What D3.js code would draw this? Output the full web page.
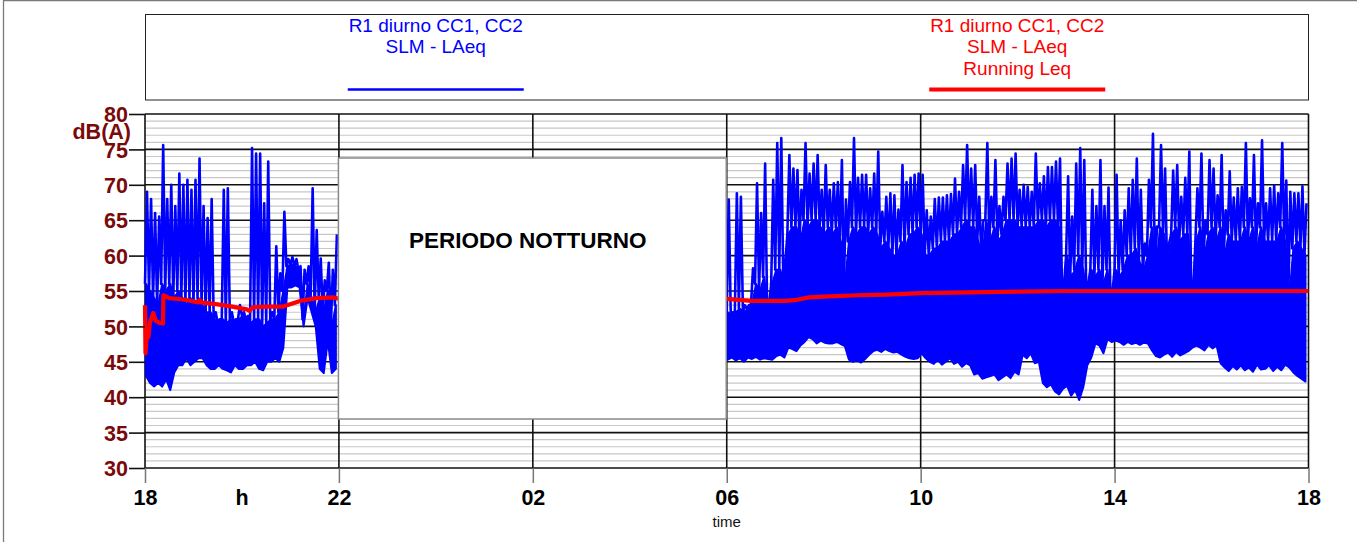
<!DOCTYPE html>
<html lang="it">
<head>
<meta charset="utf-8">
<title>R1 diurno CC1, CC2 - SLM LAeq</title>
<script src="https://cdn.jsdelivr.net/npm/d3@7"></script>
<style>
  html, body { margin: 0; padding: 0; background: #fff; }
  svg { display: block; font-family: "Liberation Sans", Arial, sans-serif; }
</style>
</head>
<body>
<svg id="grafico" width="1357" height="542"></svg>
<script>
// Asse tempi: ore trascorse dalle 18:00 del primo giorno
const ORE_TICK = [0, 4, 8, 12, 16, 20, 24];
const ETICHETTE_ORE = ['18', '22', '02', '06', '10', '14', '18'];
const TICK_DB = [30, 35, 40, 45, 50, 55, 60, 65, 70, 75, 80];

// Campioni SLM - LAeq letti a blocchi di 5 minuti:
// minimo, limite alto della fascia fitta, picco del blocco
const PASSO_ORE = 5 / 60;
const INIZIO_SERALE = 0; // 18:00
const INIZIO_DIURNO = 12; // 06:00

const SERALE_MAX = [
  69, 68, 66, 65.5, 75.6, 68, 70, 67, 71.6, 70, 70.7, 69.3, 70.7, 73.7, 67, 65.3,
  68, 52, 51, 69.3, 69.5, 52, 51, 53, 52, 51.5, 75.2, 74.4, 74.4, 67.4, 73.3, 52,
  61.3, 57.5, 66.2, 59.5, 59.8, 59.5, 58.5, 58, 58.5, 69.5, 63.6, 59.6, 56.5, 59, 58, 63,
];
const SERALE_FASCIA = [
  56, 55, 54, 53, 56, 55, 56, 54, 55, 54, 53, 54, 53, 54, 53, 52,
  52, 51, 50.5, 51, 50.5, 51, 50.5, 51, 51.5, 51, 50.5, 51, 51, 50, 50.5, 51,
  51, 52, 55, 58.5, 58.8, 58.5, 57.8, 51, 56, 54, 52, 54, 52, 55, 50, 53,
];
const SERALE_MIN = [
  43, 42, 41.5, 42, 41.5, 42.5, 41, 43.5, 44.5, 44.5, 45.5, 44.5, 45, 45.5, 45.5, 44.5,
  44, 44, 44.5, 44, 43.8, 43.5, 44.5, 44, 44, 44.5, 44.5, 45, 44, 43.8, 45, 45,
  45.5, 45, 47, 55.5, 55.5, 55.8, 55.5, 50, 54, 52, 50, 44, 43.4, 48, 43.4, 44,
];

const DIURNO_MAX = [
  67.9, 52, 68.8, 68.3, 53, 53, 58.2, 70.2, 66, 73, 53, 70.7, 75.9, 76.6, 58.9, 74.2,
  72.3, 72.1, 69.3, 75.9, 71.6, 73, 74.2, 69.3, 72.8, 69.3, 70.2, 70.4, 73.5, 67.9, 70.4, 76.6,
  71, 71.4, 71.4, 69.5, 71.6, 74.7, 66.2, 68.3, 68.8, 68.5, 66.5, 72.8, 70.4, 71, 71.4, 71.6,
  71.4, 66.4, 65.5, 68, 68.2, 68.2, 68.5, 68.7, 70.9, 69, 72.8, 75.6, 72.3, 72.8, 68.3, 65,
  75.9, 68.3, 73.5, 67, 68.3, 73, 73.7, 74.4, 69.3, 70, 69.7, 69, 74.4, 70.2, 71.2, 72.5,
  72.5, 73.3, 73.7, 56, 71.2, 65.5, 73, 75.2, 73.5, 56, 69.3, 67, 73.5, 67, 69.6, 55,
  71.4, 65, 66.4, 69.5, 70.7, 73.7, 69.3, 61.7, 70.7, 77.2, 64.1, 75.6, 72.3, 61.7, 72, 72.8,
  68.3, 71, 74.7, 55, 69.5, 74.4, 65, 73.5, 72.3, 68.5, 74.2, 66.4, 71.9, 68.2, 69.5, 69.7,
  75.9, 68.1, 74.2, 67.4, 76.3, 67.4, 69.5, 69.9, 68.8, 75.9, 70.6, 69, 68.8, 68.8, 69.8, 67.4,
];
const DIURNO_FASCIA = [
  52, 51.5, 52, 52.5, 52, 52.5, 53, 56, 55, 57, 52.5, 56, 58, 58, 56, 63,
  64, 64, 62, 65, 64, 65, 65, 64, 63, 64, 63, 64, 62, 56, 62, 64,
  63, 64, 64, 63, 64, 63, 61, 62, 61, 60, 60, 62, 61, 63, 63, 64,
  63, 60, 60, 61, 61, 62, 62, 62, 63, 63, 64, 65, 64, 64, 62, 60,
  65, 62, 64, 62, 63, 65, 65, 65, 64, 64, 64, 64, 64, 65, 65, 64,
  65, 65, 64, 54, 60, 57, 58, 60, 58, 54, 58, 57, 58, 56, 58, 53,
  58, 57, 58, 60, 60, 61, 59, 58, 60, 64, 58, 64, 63, 58, 63, 64,
  62, 63, 63, 54, 62, 64, 60, 63, 64, 62, 64, 60, 63, 62, 62, 62,
  64, 62, 64, 61, 64, 62, 62, 62, 62, 64, 62, 54, 61, 62, 61, 60,
];
const DIURNO_MIN = [
  45.3, 45.6, 45.2, 45.5, 45.0, 45.6, 45.4, 45.7, 45.3, 45.5, 45.4, 45.3, 45.8, 46.0, 45.6, 47.0,
  46.8, 46.5, 47.3, 47.8, 48.5, 48.2, 47.6, 48.0, 47.7, 47.6, 47.6, 47.8, 47.5, 47.2, 45.3, 45.0,
  45.2, 44.9, 45.4, 46.0, 46.5, 46.7, 46.4, 46.8, 46.5, 46.3, 46.4, 46.0, 45.7, 45.5, 45.4, 45.5,
  46.2, 45.5, 45.0, 44.7, 45.3, 44.6, 45.0, 45.5, 44.7, 45.0, 44.3, 44.8, 44.5, 43.2, 43.4, 42.6,
  42.8, 43.0, 43.2, 42.4, 42.8, 43.2, 42.7, 43.6, 43.2, 46.0, 45.5, 46.2, 44.8, 45.0, 42.0, 41.4,
  41.8, 40.8, 40.4, 41.2, 41.6, 40.2, 41.0, 39.6, 41.4, 44.5, 45.6, 47.6, 47.3, 46.2, 48.2, 47.8,
  48.0, 47.8, 47.4, 47.8, 47.5, 47.7, 47.4, 47.7, 47.6, 46.6, 45.8, 45.6, 46.0, 46.3, 45.7, 46.4,
  45.9, 46.2, 46.5, 47.0, 47.3, 47.0, 46.6, 47.4, 46.9, 47.3, 44.8, 44.2, 43.7, 44.4, 43.9, 44.5,
  43.8, 44.2, 43.6, 44.6, 43.9, 44.0, 44.5, 43.7, 44.3, 43.8, 44.6, 44.2, 43.5, 43.0, 42.6, 42.2,
];

// Running Leq (ore dalle 18:00, dB(A))
const LEQ_SERALE_ORE = [
  0, 0.01, 0.04, 0.07, 0.1, 0.17, 0.22, 0.3, 0.37, 0.38, 0.5, 0.8, 1.1, 1.13, 1.16,
  1.5, 1.8, 2.1, 2.16, 2.22, 2.5, 2.85, 3.2, 3.54, 3.88, 4.0,
];
const LEQ_SERALE = [
  53.0, 46.2, 49.0, 48.5, 50.5, 51.9, 50.8, 50.5, 50.4, 54.4, 54.0, 53.8, 53.4, 53.7, 53.4,
  53.1, 52.8, 52.4, 52.2, 52.7, 52.8, 52.8, 53.6, 54.0, 54.1, 53.9,
];
const LEQ_DIURNO_ORE = [12, 12.5, 13.2, 13.4, 13.7, 14, 14.7, 15.3, 16, 17, 18, 19, 20, 21, 22, 23, 24];
const LEQ_DIURNO = [53.9, 53.6, 53.6, 53.7, 54.1, 54.2, 54.4, 54.5, 54.7, 54.8, 54.9, 55.0, 55.0, 55.0, 55.0, 55.0, 55.0];

const LEGENDA_BLU = ['R1 diurno CC1, CC2', 'SLM - LAeq'];
const LEGENDA_ROSSA = ['R1 diurno CC1, CC2', 'SLM - LAeq', 'Running Leq'];
const NOTTE_ORE = [4, 12];

(function () {
  const BLU = '#0000ff';
  const ROSSO = '#ff0000';
  const BORDEAUX = '#7a0a0a';
  const GRIGIO_MINORE = '#c8c8c8';

  const svg = d3.select('#grafico');

  const x = d3.scaleLinear().domain([0, 24]).range([145, 1308.5]);
  const y = d3.scaleLinear().domain([30, 80]).range([468, 114]);

  // cornice esterna (solo lato sinistro e superiore visibili)
  svg.append('path')
    .attr('d', 'M3.5,542 V0.5 H1357')
    .attr('fill', 'none')
    .attr('stroke', '#7a7a7a')
    .attr('stroke-width', 1.3);

  // legenda
  const boxLeg = svg.append('g').attr('class', 'legenda');
  boxLeg.append('rect')
    .attr('x', 145.5).attr('y', 14.5)
    .attr('width', 1163).attr('height', 85.5)
    .attr('fill', '#fff')
    .attr('stroke', '#222')
    .attr('stroke-width', 1);

  const voci = [
    { righe: LEGENDA_BLU, colore: BLU, cx: 145 + 1163 * 0.25, spessore: 2.5 },
    { righe: LEGENDA_ROSSA, colore: ROSSO, cx: 145 + 1163 * 0.75, spessore: 4 },
  ];
  voci.forEach((v) => {
    boxLeg.selectAll(null)
      .data(v.righe)
      .enter()
      .append('text')
      .attr('x', v.cx)
      .attr('y', (d, i) => 31.5 + i * 21.5)
      .attr('text-anchor', 'middle')
      .attr('fill', v.colore)
      .attr('font-size', 19)
      .text((d) => d);
    boxLeg.append('line')
      .attr('x1', v.cx - 88).attr('x2', v.cx + 88)
      .attr('y1', 89.5).attr('y2', 89.5)
      .attr('stroke', v.colore)
      .attr('stroke-width', v.spessore);
  });

  // griglia orizzontale minore (1 dB) e maggiore (5 dB)
  const minori = d3.range(31, 80).filter((v) => v % 5 !== 0);
  svg.append('g')
    .selectAll('line')
    .data(minori)
    .enter()
    .append('line')
    .attr('x1', x(0)).attr('x2', x(24))
    .attr('y1', (d) => y(d)).attr('y2', (d) => y(d))
    .attr('stroke', GRIGIO_MINORE)
    .attr('stroke-width', 1.2);

  svg.append('g')
    .selectAll('line')
    .data(TICK_DB)
    .enter()
    .append('line')
    .attr('x1', x(0)).attr('x2', x(24))
    .attr('y1', (d) => y(d)).attr('y2', (d) => y(d))
    .attr('stroke', '#111')
    .attr('stroke-width', 1.6);

  svg.append('g')
    .selectAll('line')
    .data(ORE_TICK)
    .enter()
    .append('line')
    .attr('x1', (d) => x(d)).attr('x2', (d) => x(d))
    .attr('y1', y(80)).attr('y2', y(30))
    .attr('stroke', '#111')
    .attr('stroke-width', 1.6);

  // serie LAeq: fascia fitta (min -> fascia) e picchi (fascia -> max)
  function blocchi(inizio, minimi, fascia, massimi) {
    return minimi.map((v, i) => ({
      t: inizio + i * PASSO_ORE,
      min: v,
      fascia: fascia[i],
      max: massimi[i],
    }));
  }

  function puntiPicchi(dati) {
    const punti = [];
    dati.forEach((d) => {
      punti.push([d.t, d.fascia]);
      punti.push([d.t + PASSO_ORE / 2, d.max]);
    });
    return punti;
  }

  const linea = d3.line()
    .x((d) => x(d[0]))
    .y((d) => y(d[1]));

  const fasciaArea = d3.area()
    .x((d) => x(d.t + PASSO_ORE / 4))
    .y0((d) => y(d.min))
    .y1((d) => y(d.fascia));

  const capaDati = svg.append('g').attr('class', 'dati');
  [
    blocchi(INIZIO_SERALE, SERALE_MIN, SERALE_FASCIA, SERALE_MAX),
    blocchi(INIZIO_DIURNO, DIURNO_MIN, DIURNO_FASCIA, DIURNO_MAX),
  ].forEach((dati) => {
    capaDati.append('path')
      .attr('d', fasciaArea(dati))
      .attr('fill', BLU)
      .attr('stroke', BLU)
      .attr('stroke-width', 2)
      .attr('stroke-linejoin', 'round');
    capaDati.append('path')
      .attr('d', linea(puntiPicchi(dati)))
      .attr('fill', 'none')
      .attr('stroke', BLU)
      .attr('stroke-width', 2.6)
      .attr('stroke-linejoin', 'round');
  });

  [
    d3.zip(LEQ_SERALE_ORE, LEQ_SERALE),
    d3.zip(LEQ_DIURNO_ORE, LEQ_DIURNO),
  ].forEach((punti) => {
    capaDati.append('path')
      .attr('d', linea(punti))
      .attr('fill', 'none')
      .attr('stroke', ROSSO)
      .attr('stroke-width', 4.2)
      .attr('stroke-linejoin', 'round');
  });

  // riquadro periodo notturno
  const notte = svg.append('g').attr('class', 'notte');
  notte.append('rect')
    .attr('x', x(NOTTE_ORE[0]) - 0.5)
    .attr('y', 158)
    .attr('width', x(NOTTE_ORE[1]) - x(NOTTE_ORE[0]))
    .attr('height', 261)
    .attr('fill', '#fff')
    .attr('stroke', '#888')
    .attr('stroke-width', 1.5);
  notte.append('text')
    .attr('x', (x(NOTTE_ORE[0]) + x(NOTTE_ORE[1])) / 2 - 5)
    .attr('y', 248)
    .attr('text-anchor', 'middle')
    .attr('font-size', 22.5)
    .attr('font-weight', 'bold')
    .attr('fill', '#000')
    .text('PERIODO NOTTURNO');

  // assi
  const asseY = svg.append('g')
    .attr('transform', `translate(${x(0)},0)`)
    .call(d3.axisLeft(y).tickValues(TICK_DB).tickSize(16).tickPadding(1));
  asseY.select('.domain').remove();
  asseY.selectAll('line').attr('stroke', '#111').attr('stroke-width', 1.6);
  asseY.selectAll('text')
    .attr('fill', BORDEAUX)
    .attr('font-size', 21.5)
    .attr('font-weight', 'bold')
    .attr('font-family', '"Liberation Sans", Arial, sans-serif')
    .attr('dy', '0.36em');

  svg.append('text')
    .attr('x', 131)
    .attr('y', 138.5)
    .attr('text-anchor', 'end')
    .attr('fill', BORDEAUX)
    .attr('font-size', 21.5)
    .attr('font-weight', 'bold')
    .text('dB(A)');

  const asseX = svg.append('g')
    .attr('transform', `translate(0,${y(30)})`)
    .call(
      d3.axisBottom(x)
        .tickValues(ORE_TICK)
        .tickFormat((d, i) => ETICHETTE_ORE[i])
        .tickSize(15)
        .tickPadding(7)
    );
  asseX.select('.domain').remove();
  asseX.selectAll('line').attr('stroke', '#777').attr('stroke-width', 1.5);
  asseX.selectAll('text')
    .attr('fill', '#000')
    .attr('font-size', 21.5)
    .attr('font-weight', 'bold')
    .attr('font-family', '"Liberation Sans", Arial, sans-serif');

  svg.append('text')
    .attr('x', x(2))
    .attr('y', 505)
    .attr('text-anchor', 'middle')
    .attr('font-size', 21.5)
    .attr('font-weight', 'bold')
    .text('h');

  svg.append('text')
    .attr('x', x(12))
    .attr('y', 527)
    .attr('text-anchor', 'middle')
    .attr('font-size', 15)
    .attr('fill', '#111')
    .text('time');
})();
</script>
</body>
</html>
